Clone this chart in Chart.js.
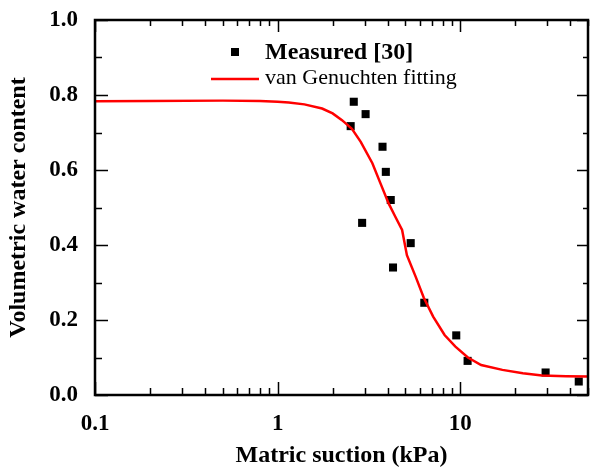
<!DOCTYPE html>
<html>
<head>
<meta charset="utf-8">
<script src="https://cdn.jsdelivr.net/npm/chart.js@4/dist/chart.umd.min.js"></script>
<style>
  html, body { margin: 0; padding: 0; background: #fff; }
  #wrap { width: 590px; height: 472px; }
</style>
</head>
<body>
<div id="wrap"><canvas id="chart"></canvas></div>
<script>
// measured points (suction in kPa, volumetric water content)
const measuredSuction = [2.51, 2.61, 2.90, 3.03, 3.75, 3.91, 4.16, 4.28, 5.35, 6.35, 9.5, 10.96, 29.3, 44.5];
const measuredTheta = [0.717, 0.782, 0.459, 0.749, 0.662, 0.595, 0.520, 0.340, 0.405, 0.246, 0.159, 0.091, 0.060, 0.036];

// van Genuchten fitting curve
const fitSuction = [0.1, 0.2, 0.5, 0.8, 1.0, 1.15, 1.4, 1.75, 2.0, 2.25, 2.55, 2.85, 3.3, 3.65, 4.05, 4.4, 4.8, 5.1, 5.7, 6.3, 7.1, 8.2, 9.4, 11, 13, 17, 22, 28, 38, 50];
const fitTheta = [0.783, 0.784, 0.785, 0.784, 0.782, 0.780, 0.775, 0.764, 0.751, 0.733, 0.710, 0.675, 0.618, 0.565, 0.511, 0.476, 0.440, 0.373, 0.315, 0.260, 0.209, 0.160, 0.129, 0.100, 0.080, 0.067, 0.058, 0.052, 0.050, 0.049];

const labelMeasured = 'Measured [30]';
const labelFit = 'van Genuchten fitting';
const xTitle = 'Matric suction (kPa)';
const yTitle = 'Volumetric water content';

const serif = '"Liberation Serif", "Times New Roman", serif';

const toPoints = (xs, ys) => xs.map((x, i) => ({ x: x, y: ys[i] }));

// frame + inward ticks on all four sides, plus the legend
const framePlugin = {
  id: 'frame',
  afterDraw(chart) {
    const ctx = chart.ctx;
    const a = chart.chartArea;
    const xs = chart.scales.x;
    const ys = chart.scales.y;
    ctx.save();
    ctx.strokeStyle = '#000';
    ctx.lineWidth = 1.5;
    ctx.beginPath();
    for (let d = 0.1; d < 100; d *= 10) {
      for (let m = 1; m < 10; m++) {
        const v = d * m;
        if (v < xs.min - 1e-9 || v > xs.max + 1e-9) continue;
        const px = Math.round(xs.getPixelForValue(v)) + 0.5;
        const major = m === 1;
        ctx.moveTo(px, a.bottom);
        ctx.lineTo(px, a.bottom - (major ? 13 : 7));
        ctx.moveTo(px, a.top);
        ctx.lineTo(px, a.top + (major ? 12 : 6));
      }
    }
    for (let i = 0; i <= 10; i++) {
      const py = Math.round(ys.getPixelForValue(i / 10)) + 0.5;
      const major = i % 2 === 0;
      ctx.moveTo(a.left, py);
      ctx.lineTo(a.left + (major ? 13 : 7), py);
      ctx.moveTo(a.right, py);
      ctx.lineTo(a.right - (major ? 11 : 5), py);
    }
    ctx.stroke();
    ctx.lineWidth = 2.5;
    ctx.strokeRect(a.left, a.top, a.right - a.left, a.bottom - a.top);

    // legend
    const lx = a.left + 140;
    const ly = a.top + 32;
    ctx.fillStyle = '#000';
    ctx.fillRect(lx - 4, ly - 4, 8, 8);
    ctx.textBaseline = 'middle';
    ctx.textAlign = 'left';
    ctx.font = 'bold 24px ' + serif;
    ctx.fillText(labelMeasured, lx + 30, ly + 1);
    ctx.strokeStyle = '#ff0000';
    ctx.lineWidth = 2.5;
    ctx.beginPath();
    ctx.moveTo(lx - 24, ly + 27);
    ctx.lineTo(lx + 24, ly + 27);
    ctx.stroke();
    ctx.font = '22px ' + serif;
    ctx.fillText(labelFit, lx + 30, ly + 26);
    ctx.restore();
  }
};

new Chart(document.getElementById('chart'), {
  type: 'scatter',
  data: {
    datasets: [
      {
        label: labelFit,
        data: toPoints(fitSuction, fitTheta),
        showLine: true,
        borderColor: '#ff0000',
        borderWidth: 2.5,
        pointRadius: 0,
        tension: 0
      },
      {
        label: labelMeasured,
        data: toPoints(measuredSuction, measuredTheta),
        pointStyle: 'rect',
        pointRadius: 5.7,
        backgroundColor: '#000',
        borderColor: '#000',
        borderWidth: 0
      }
    ]
  },
  options: {
    responsive: true,
    maintainAspectRatio: false,
    animation: false,
    layout: { autoPadding: false, padding: { top: 20, right: 2, left: 0, bottom: 0 } },
    plugins: {
      legend: { display: false },
      tooltip: { enabled: false }
    },
    scales: {
      x: {
        type: 'logarithmic',
        min: 0.1,
        max: 50,
        grid: { display: false, drawTicks: false },
        border: { display: false },
        ticks: {
          autoSkip: false,
          maxRotation: 0,
          padding: 15,
          color: '#000',
          font: { family: serif, size: 23, weight: 'bold' },
          callback: function (v) {
            const l = Math.log10(v);
            return Math.abs(l - Math.round(l)) < 1e-6 ? String(v) : '';
          }
        },
        title: {
          display: true,
          text: xTitle,
          color: '#000',
          font: { family: serif, size: 24, weight: 'bold' },
          padding: { top: 0, bottom: 2 }
        },
        afterFit: (s) => { s.height = 77; s.paddingLeft = 0; s.paddingRight = 0; }
      },
      y: {
        min: 0,
        max: 1,
        grid: { display: false, drawTicks: false },
        border: { display: false },
        ticks: {
          stepSize: 0.2,
          padding: 17,
          color: '#000',
          font: { family: serif, size: 23, weight: 'bold' },
          callback: (v) => v.toFixed(1)
        },
        title: {
          display: true,
          text: yTitle,
          color: '#000',
          font: { family: serif, size: 24, weight: 'bold' },
          padding: { top: 4, bottom: 0 }
        },
        afterFit: (s) => { s.width = 95; s.paddingTop = 0; s.paddingBottom = 0; }
      }
    }
  },
  plugins: [framePlugin]
});
</script>
</body>
</html>
